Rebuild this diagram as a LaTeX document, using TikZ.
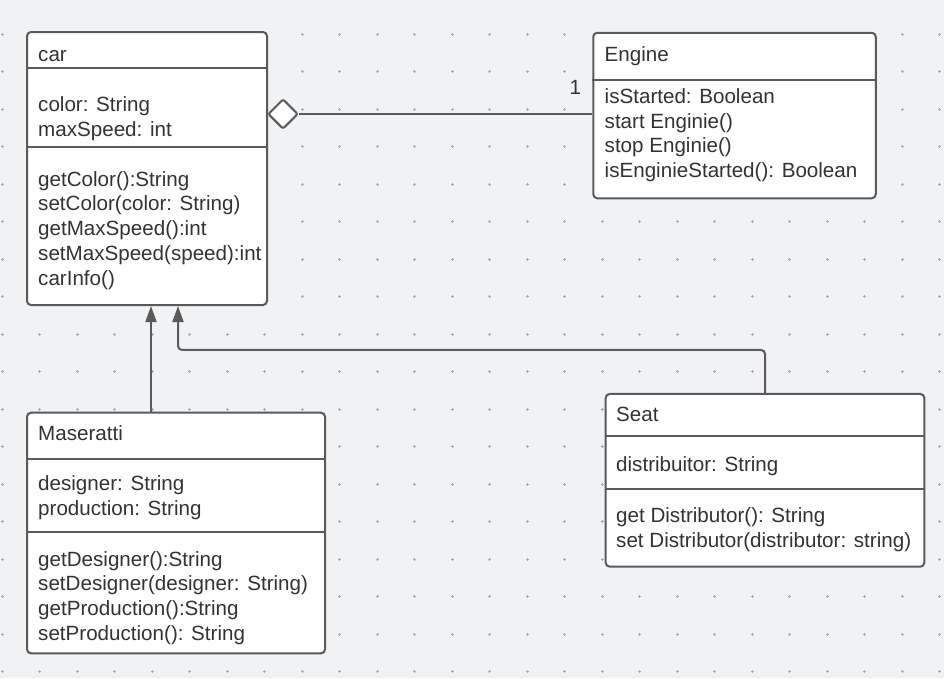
\documentclass[tikz,border=0pt]{standalone}
\usepackage{fontspec}
\setmainfont{Liberation Sans}
\usetikzlibrary{shapes.geometric,arrows.meta}
\definecolor{paper}{HTML}{F1F2F4}
\definecolor{ink}{HTML}{5A5A5A}
\definecolor{txtgray}{HTML}{333333}
\definecolor{dotgray}{HTML}{A9ACB1}
\def\classnode{\node[classbox]}
\def\drawsep{\draw[sep]}
\newcommand\members[4]{\foreach \m [count=\k from 0] in {#4} \node[txt] (#1-\k) at (#2,#3+24.75*\k) {\m};}

\begin{document}
\begin{tikzpicture}[x=1pt,y=-1pt,
  classbox/.style={draw=ink,fill=white,line width=2pt,rounded corners=4pt,inner sep=0pt},
  txt/.style={anchor=base west,inner sep=0pt,text=txtgray,font=\fontsize{20.6}{24.75}\selectfont},
  sep/.style={draw=ink,line width=1.7pt},
  link/.style={draw=ink,line width=2pt},
  gen/.style={link,rounded corners=4pt,-{Triangle[width=11pt,length=16pt]}},
  dot/.style={draw=dotgray,line width=0.7pt}]
\fill[paper] (0,0) rectangle (944,678);
\foreach \i in {0,...,25} \foreach \j in {0,...,17}
  \draw[dot] (2+37.5*\i,34+37.5*\j) +(-1.5,0) -- +(1.5,0) +(0,-1.5) -- +(0,1.5);

\classnode[minimum width=240pt,minimum height=273pt] (car) at (147,168.5) {};
\classnode[minimum width=282.5pt,minimum height=165.5pt] (engine) at (734.5,115.5) {};
\classnode[minimum width=298pt,minimum height=240.6pt] (maserati) at (176,533) {};
\classnode[minimum width=318.6pt,minimum height=172.7pt] (seat) at (765,480.3) {};

\drawsep (car.west |- 0,67.7) -- (car.east |- 0,67.7);
\drawsep (car.west |- 0,146.7) -- (car.east |- 0,146.7);
\drawsep (engine.west |- 0,80.3) -- (engine.east |- 0,80.3);
\drawsep (maserati.west |- 0,459) -- (maserati.east |- 0,459);
\drawsep (maserati.west |- 0,531.7) -- (maserati.east |- 0,531.7);
\drawsep (seat.west |- 0,435.7) -- (seat.east |- 0,435.7);
\drawsep (seat.west |- 0,489) -- (seat.east |- 0,489);

\node[txt] (car-name) at (38,61) {car};
\members{car-attr}{38}{111.5}{color: String,maxSpeed: int}
\members{car-op}{38}{186}{getColor():String,setColor(color: String),getMaxSpeed():int,setMaxSpeed(speed):int,carInfo()}

\node[txt] (engine-name) at (604.5,61) {Engine};
\members{engine-attr}{604.5}{103.3}{isStarted: Boolean,start Enginie(),stop Enginie(),isEnginieStarted(): Boolean}

\node[txt] (maserati-name) at (38,440.7) {Maseratti};
\members{maserati-attr}{38}{490.7}{designer: String,production: String}
\members{maserati-op}{38}{566}{getDesigner():String,setDesigner(designer: String),getProduction():String,setProduction(): String}

\node[txt] (seat-name) at (616,421.7) {Seat};
\members{seat-attr}{616}{471.7}{distribuitor: String}
\members{seat-op}{616}{522.7}{get Distributor(): String,set Distributor(distributor: string)}

\node[diamond,aspect=1,draw=ink,fill=white,line width=2pt,rounded corners=2pt,inner sep=0pt,
  minimum width=30pt,minimum height=30pt] (agg) at (283,114) {};
\draw[link] (agg.east) -- (agg.east -| engine.west);
\node[txt] (mult) at (569.5,94) {1};

\draw[gen] ([xshift=-25pt]maserati.north) -- ([xshift=-25pt]maserati.north |- car.south);
\draw[gen] (seat.north) -- ++(0,-43) -| ([xshift=31pt]car.south);
\end{tikzpicture}
\end{document}
